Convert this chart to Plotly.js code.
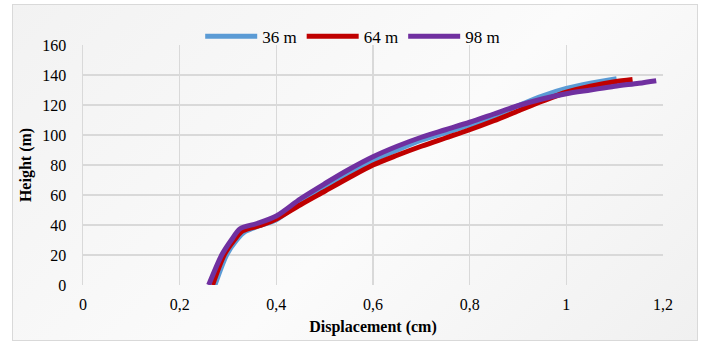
<!DOCTYPE html>
<html><head><meta charset="utf-8">
<script src="https://cdn.plot.ly/plotly-3.0.1.min.js"></script>
<style>
html,body{margin:0;padding:0;background:#fff;}
#wrap{position:relative;width:703px;height:345px;}
#bg{position:absolute;left:12px;top:4px;width:684px;height:335px;border:1px solid #d9d9d9;background:linear-gradient(135deg,#f2f2f2 0%,#fbfbfb 55%,#f0f0f0 100%);}
#chart{position:absolute;left:0;top:0;width:703px;height:345px;}
</style></head><body>
<div id="wrap"><div id="bg"></div><div id="chart"></div></div>
<script>
var seriesNames = ["36 m", "64 m", "98 m"];
var colors = ["#5B9BD5", "#C00000", "#7030A0"];
var x36 = [0.273,0.297,0.318,0.335,0.37,0.40,0.45,0.50,0.55,0.60,0.65,0.70,0.75,0.80,0.85,0.90,0.95,1.00,1.05,1.104];
var y36 = [0,20,30,35.5,40,43.5,55,65,74.5,83,90,96.5,101.5,106.5,112.5,119.5,126,131,134.5,137.5];
var x64 = [0.268,0.292,0.313,0.330,0.37,0.40,0.45,0.50,0.55,0.60,0.65,0.70,0.75,0.80,0.85,0.90,0.95,1.00,1.05,1.10,1.137];
var y64 = [0,20,30,36,40,44,53.5,62.5,71.5,80,86.5,92.5,98,103.5,109.5,116,122.5,128.5,132.5,135.5,137];
var x98 = [0.260,0.287,0.307,0.325,0.36,0.40,0.45,0.50,0.55,0.60,0.65,0.70,0.75,0.80,0.85,0.90,0.95,1.00,1.05,1.10,1.15,1.186];
var y98 = [0,20,30,37.5,41,46,57.5,67.5,77,85.5,92.5,98.5,103.5,108.5,114,119.5,124,127.5,130,132.5,134.5,136.2];
var xTickVals = [0,0.2,0.4,0.6,0.8,1,1.2];
var xTickText = ["0","0,2","0,4","0,6","0,8","1","1,2"];
var yTickVals = [0,20,40,60,80,100,120,140,160];

var xs = [x36, x64, x98], ys = [y36, y64, y98];
var traces = seriesNames.map(function(n, i){
  return {x: xs[i], y: ys[i], name: n, mode: "lines", type: "scatter",
    line: {color: colors[i], width: 5, shape: "spline", smoothing: 0.8}};
});
var fam = "'Liberation Serif', 'Times New Roman', serif";
var layout = {
  width: 703, height: 345,
  margin: {l: 83, r: 40, t: 45, b: 60},
  paper_bgcolor: "rgba(0,0,0,0)", plot_bgcolor: "rgba(0,0,0,0)",
  font: {family: fam, size: 15, color: "#000"}, showlegend: true,
  legend: {orientation: "h", x: 0.465, xanchor: "center", xref: "paper", y: 0.96, yanchor: "bottom",
    font: {family: fam, size: 17, color: "#000"}, itemwidth: 52, bgcolor: "rgba(0,0,0,0)", tracegroupgap: 0},
  xaxis: {range: [0, 1.2], tickvals: xTickVals, ticktext: xTickText, showgrid: true, gridcolor: "#d9d9d9", gridwidth: 1.5,
    zeroline: false, showline: false, ticks: "outside", ticklen: 5, tickcolor: "rgba(0,0,0,0)",
    tickfont: {family: fam, size: 16, color: "#000"},
    title: {text: "<b>Displacement (cm)</b>", font: {family: fam, size: 16, color: "#000"}, standoff: 8}},
  yaxis: {range: [0, 160], tickvals: yTickVals, showgrid: true, gridcolor: "#d9d9d9", gridwidth: 1.5,
    zeroline: false, showline: true, linecolor: "#d9d9d9", linewidth: 1.5, ticks: "outside", ticklen: 12, tickcolor: "rgba(0,0,0,0)",
    tickfont: {family: fam, size: 16, color: "#000"},
    title: {text: "<b>Height (m)</b>", font: {family: fam, size: 16, color: "#000"}, standoff: 6}}
};
Plotly.newPlot("chart", traces, layout, {displayModeBar: false, staticPlot: true});
</script>
</body></html>
